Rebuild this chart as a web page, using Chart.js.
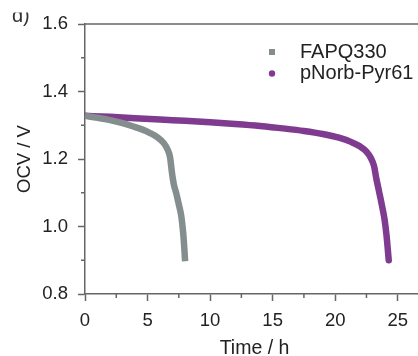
<!DOCTYPE html>
<html>
<head>
<meta charset="utf-8">
<script src="https://cdn.jsdelivr.net/npm/chart.js@4/dist/chart.umd.min.js"></script>
<style>
  html, body { margin: 0; padding: 0; background: #fff; overflow: hidden; }
  #wrap { width: 424px; height: 360px; }
</style>
</head>
<body>
<div id="wrap"><canvas id="ocvChart"></canvas></div>
<script>
// discharge curves, time in h, OCV in V
const fapqTime = [0, 1, 2, 3, 3.8, 4.6, 5.2, 5.8, 6.3, 6.6, 6.8, 6.95, 7.1, 7.3, 7.5, 7.7, 7.85, 7.95, 8.0];
const fapqOcv = [1.328, 1.322, 1.315, 1.306, 1.297, 1.287, 1.277, 1.264, 1.247, 1.228, 1.205, 1.16, 1.125, 1.098, 1.065, 1.03, 0.98, 0.93, 0.897];

const pyrTime = [0, 2, 4, 6, 8, 10, 12, 14, 16, 17.5, 19, 20.3, 21.3, 22, 22.5, 22.85, 23.1, 23.3, 23.5, 23.75, 23.95, 24.1, 24.2, 24.28];
const pyrOcv = [1.328, 1.325, 1.321, 1.317, 1.313, 1.309, 1.304, 1.298, 1.29, 1.283, 1.274, 1.263, 1.25, 1.237, 1.222, 1.203, 1.18, 1.14, 1.105, 1.06, 1.02, 0.975, 0.935, 0.9];

const seriesNames = ["FAPQ330", "pNorb-Pyr61"];
const seriesColors = ["#858e8e", "#7f3b8f"];

const xTicks = [0, 5, 10, 15, 20, 25];
const yTicks = [0.8, 1.0, 1.2, 1.4, 1.6];

const FONT = "'Liberation Sans', Arial, sans-serif";
const AXIS_COLOR = "#666";

function toPoints(xs, ys) {
  return xs.map((x, i) => ({ x, y: ys[i] }));
}

// minor ticks, top frame line, legend and panel letter
const decorations = {
  id: "decorations",
  afterDraw(chart) {
    const { ctx, chartArea } = chart;
    const xs = chart.scales.x;
    const ys = chart.scales.y;
    ctx.save();
    ctx.strokeStyle = AXIS_COLOR;
    ctx.lineWidth = 1.5;

    ctx.beginPath();
    ctx.moveTo(chartArea.left, chartArea.top);
    ctx.lineTo(chartArea.right, chartArea.top);
    ctx.stroke();

    ctx.beginPath();
    for (let v = 2.5; v < 27; v += 5) {
      const px = xs.getPixelForValue(v);
      ctx.moveTo(px, chartArea.bottom);
      ctx.lineTo(px, chartArea.bottom + 4);
    }
    for (let v = 0.9; v < 1.6; v += 0.2) {
      const py = ys.getPixelForValue(v);
      ctx.moveTo(chartArea.left, py);
      ctx.lineTo(chartArea.left - 4, py);
    }
    ctx.stroke();

    // legend
    ctx.font = "20px " + FONT;
    ctx.fillStyle = "#222";
    ctx.textBaseline = "middle";
    ctx.fillText(seriesNames[0], 300, 52);
    ctx.fillText(seriesNames[1], 300, 73);
    ctx.fillStyle = seriesColors[0];
    ctx.fillRect(269, 49, 6, 6);
    ctx.fillStyle = seriesColors[1];
    ctx.beginPath();
    ctx.arc(272, 73.5, 3.2, 0, Math.PI * 2);
    ctx.fill();

    // panel letter, upper part cut off
    ctx.beginPath();
    ctx.rect(0, 12.5, 60, 20);
    ctx.clip();
    ctx.font = "20px " + FONT;
    ctx.fillStyle = "#333";
    ctx.textBaseline = "alphabetic";
    ctx.fillText("d)", 12, 22);
    ctx.restore();
  },
};

new Chart(document.getElementById("ocvChart"), {
  type: "line",
  data: {
    datasets: [
      {
        label: seriesNames[0],
        data: toPoints(fapqTime, fapqOcv),
        borderColor: seriesColors[0],
        borderWidth: 6.5,
        borderCapStyle: "butt",
        pointRadius: 0,
        cubicInterpolationMode: "monotone",
      },
      {
        label: seriesNames[1],
        data: toPoints(pyrTime, pyrOcv),
        borderColor: seriesColors[1],
        borderWidth: 6.5,
        borderCapStyle: "round",
        pointRadius: 0,
        cubicInterpolationMode: "monotone",
      },
    ],
  },
  options: {
    responsive: true,
    maintainAspectRatio: false,
    animation: false,
    layout: { padding: { top: 24, right: 0, left: 0, bottom: 0 } },
    plugins: { legend: { display: false }, tooltip: { enabled: false } },
    scales: {
      x: {
        type: "linear",
        min: 0,
        max: 27.1,
        afterBuildTicks: (scale) => {
          scale.ticks = xTicks.map((v) => ({ value: v }));
        },
        afterFit: (scale) => {
          scale.height = 66;
        },
        ticks: {
          color: "#222",
          font: { family: FONT, size: 18.5 },
          padding: 9,
          maxRotation: 0,
        },
        grid: { drawOnChartArea: false, tickLength: 7, tickColor: AXIS_COLOR, tickWidth: 1.5 },
        border: { color: AXIS_COLOR, width: 1.5 },
        title: {
          display: true,
          text: "Time / h",
          color: "#222",
          font: { family: FONT, size: 19.5 },
          padding: { top: 0, bottom: 0 },
        },
      },
      y: {
        min: 0.8,
        max: 1.6,
        afterBuildTicks: (scale) => {
          scale.ticks = yTicks.map((v) => ({ value: v }));
        },
        afterFit: (scale) => {
          scale.width = 85;
        },
        ticks: {
          color: "#222",
          font: { family: FONT, size: 18.5 },
          padding: 10,
          callback: (v) => v.toFixed(1),
        },
        grid: { drawOnChartArea: false, tickLength: 7, tickColor: AXIS_COLOR, tickWidth: 1.5 },
        border: { color: AXIS_COLOR, width: 1.5 },
        title: {
          display: true,
          text: "OCV / V",
          color: "#222",
          font: { family: FONT, size: 18.5 },
          padding: { top: 14, bottom: 0 },
        },
      },
    },
  },
  plugins: [decorations],
});
</script>
</body>
</html>
